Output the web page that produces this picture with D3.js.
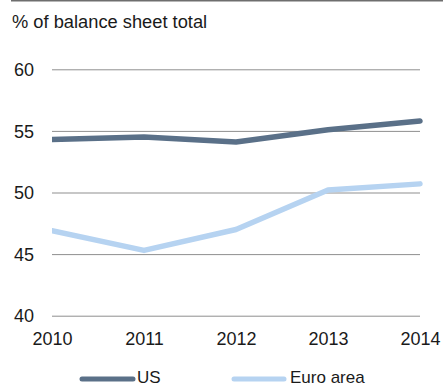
<!DOCTYPE html>
<html>
<head>
<meta charset="utf-8">
<script src="https://cdn.jsdelivr.net/npm/d3@7"></script>
<style>
  html, body { margin: 0; padding: 0; background: #fff; }
  svg { display: block; font-family: "Liberation Sans", Arial, sans-serif; }
</style>
</head>
<body>
<svg id="chart" width="443" height="387"></svg>
<script>
// Share of balance sheet total, US vs euro area banks
const years = [2010, 2011, 2012, 2013, 2014];
const usValues = [54.3, 54.5, 54.1, 55.1, 55.8];
const euroValues = [46.9, 45.3, 47.0, 50.2, 50.7];
const yTicks = [40, 45, 50, 55, 60];
const seriesNames = ["US", "Euro area"];
const seriesColors = ["#5a7088", "#b6d3f1"];

const svg = d3.select("#chart");
const W = 443;
const FONT = "Liberation Sans, Arial, sans-serif";

const x = d3.scalePoint().domain(years).range([52, 420]);
const y = d3.scaleLinear().domain([40, 60]).range([315.7, 69.3]);

// top rule
svg.append("line")
  .attr("x1", 11).attr("x2", W)
  .attr("y1", 0.75).attr("y2", 0.75)
  .attr("stroke", "#6e6e6e").attr("stroke-width", 1.5);

// unit label
svg.append("text")
  .attr("x", 12).attr("y", 28)
  .attr("font-size", 18.3).attr("fill", "#1a1a1a")
  .text("% of balance sheet total");

// horizontal gridlines with value labels
const yAxis = d3.axisLeft(y).tickValues(yTicks).tickSize(-(420 - 52)).tickPadding(14);
const gy = svg.append("g").attr("transform", "translate(52,0)").call(yAxis);
gy.select(".domain").remove();
gy.selectAll(".tick line").attr("stroke", "#8f8f8f").attr("stroke-width", 1);
gy.selectAll(".tick text")
  .attr("x", -18).attr("dy", "0.34em")
  .attr("font-size", 18).attr("fill", "#1a1a1a")
  .attr("font-family", FONT);

// year labels
const xAxis = d3.axisBottom(x).tickSize(0).tickPadding(0);
const gx = svg.append("g").attr("transform", "translate(0,333)").call(xAxis);
gx.select(".domain").remove();
gx.selectAll(".tick text")
  .attr("dy", "0.35em").attr("y", 6)
  .attr("font-size", 18).attr("fill", "#1a1a1a")
  .attr("font-family", FONT);

// series lines
svg.append("defs").append("clipPath").attr("id", "plotclip")
  .append("rect").attr("x", 52).attr("y", 0).attr("width", 400).attr("height", 330);

const line = d3.line().x((d, i) => x(years[i])).y(d => y(d));
const plot = svg.append("g").attr("clip-path", "url(#plotclip)");
[[euroValues, seriesColors[1]], [usValues, seriesColors[0]]].forEach(([vals, color]) => {
  plot.append("path")
    .datum(vals)
    .attr("d", line)
    .attr("fill", "none")
    .attr("stroke", color)
    .attr("stroke-width", 5.5)
    .attr("stroke-linejoin", "round")
    .attr("stroke-linecap", "round");
});

// legend
const legendItems = [
  { name: seriesNames[0], color: seriesColors[0], x1: 80, x2: 135, tx: 137 },
  { name: seriesNames[1], color: seriesColors[1], x1: 232, x2: 286, tx: 290 }
];
const lg = svg.append("g");
legendItems.forEach(d => {
  lg.append("line")
    .attr("x1", d.x1 + 2).attr("x2", d.x2 - 2)
    .attr("y1", 379).attr("y2", 379)
    .attr("stroke", d.color).attr("stroke-width", 5)
    .attr("stroke-linecap", "round");
  lg.append("text")
    .attr("x", d.tx).attr("y", 383)
    .attr("font-size", 17).attr("fill", "#1a1a1a")
    .text(d.name);
});
</script>
</body>
</html>
